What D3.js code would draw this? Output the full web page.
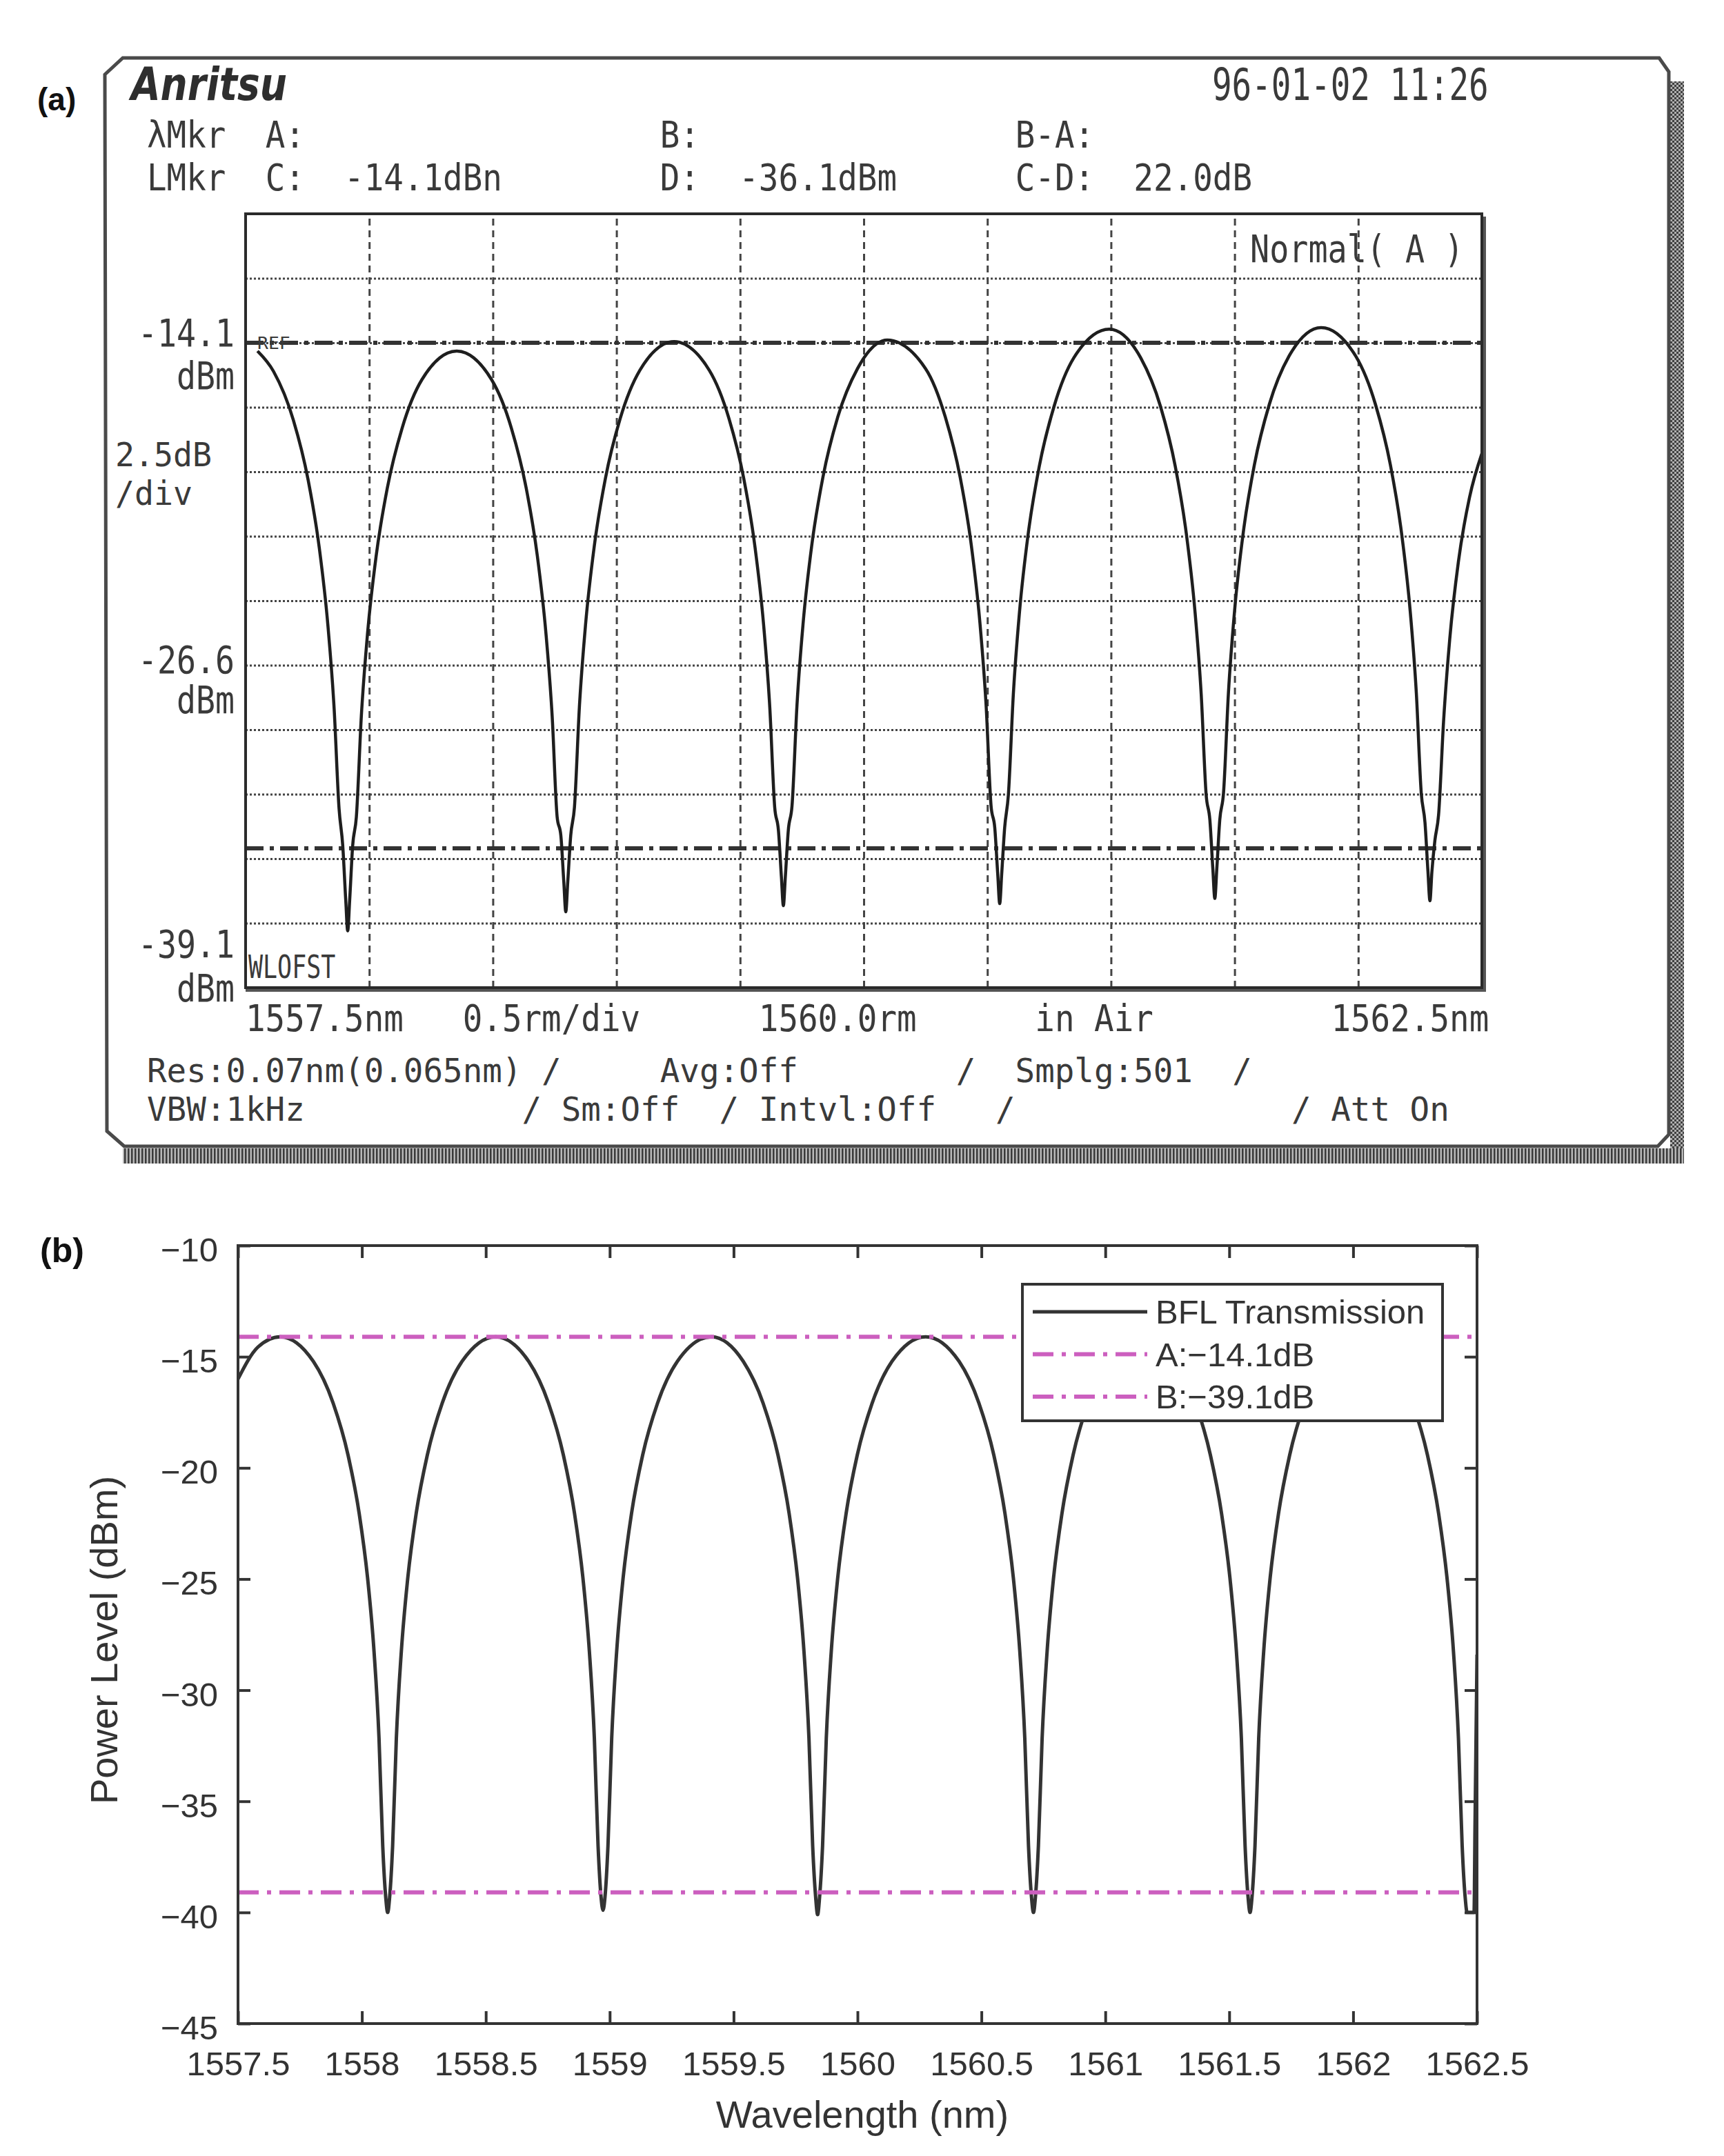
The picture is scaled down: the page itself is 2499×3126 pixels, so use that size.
<!DOCTYPE html>
<html lang="en">
<head>
<meta charset="utf-8">
<title>BFL transmission - OSA trace and model</title>
<script src="https://d3js.org/d3.v7.min.js"></script>
<style>
  body { margin: 0; background: #fff; }
  svg { display: block; }
</style>
</head>
<body>
<script>
const width = 2499;
const height = 3126;

// ---------- panel (a): OSA screen capture ----------
const osaWavelength = [
  1557.548, 1557.613, 1557.693, 1557.753, 1557.798, 1557.833, 1557.858, 1557.878, 1557.893, 1557.905,
  1557.913, 1557.921, 1557.933, 1557.948, 1557.968, 1557.993, 1558.028, 1558.073, 1558.133, 1558.213,
  1558.354, 1558.495, 1558.575, 1558.635, 1558.680, 1558.715, 1558.740, 1558.760, 1558.775, 1558.787,
  1558.795, 1558.803, 1558.815, 1558.830, 1558.850, 1558.875, 1558.910, 1558.955, 1559.015, 1559.095,
  1559.233, 1559.375, 1559.455, 1559.515, 1559.560, 1559.595, 1559.620, 1559.640, 1559.655, 1559.667,
  1559.675, 1559.683, 1559.695, 1559.710, 1559.730, 1559.755, 1559.790, 1559.835, 1559.895, 1559.975,
  1560.095, 1560.250, 1560.330, 1560.390, 1560.435, 1560.470, 1560.495, 1560.515, 1560.530, 1560.542,
  1560.550, 1560.558, 1560.570, 1560.585, 1560.605, 1560.630, 1560.665, 1560.710, 1560.770, 1560.850,
  1560.993, 1561.120, 1561.200, 1561.260, 1561.305, 1561.340, 1561.365, 1561.385, 1561.400, 1561.412,
  1561.420, 1561.428, 1561.440, 1561.455, 1561.475, 1561.500, 1561.535, 1561.580, 1561.640, 1561.720,
  1561.850, 1561.990, 1562.070, 1562.130, 1562.175, 1562.210, 1562.235, 1562.255, 1562.270, 1562.282,
  1562.290, 1562.298, 1562.310, 1562.325, 1562.345, 1562.370, 1562.405, 1562.450, 1562.500
];
const osaPower = [
  -14.42, -15.21, -17.09, -19.42, -22.05, -25.07, -28.27, -32.16, -33.60, -35.70,
  -36.90, -35.70, -33.60, -32.48, -28.59, -25.39, -22.37, -19.74, -17.41, -15.53,
  -14.42, -15.53, -17.41, -19.74, -22.37, -25.39, -28.59, -32.48, -33.20, -35.00,
  -36.16, -35.00, -33.20, -32.11, -28.22, -25.02, -22.00, -19.37, -17.04, -15.16,
  -14.05, -15.16, -17.04, -19.37, -22.00, -25.02, -28.22, -32.11, -33.00, -34.80,
  -35.92, -34.80, -33.00, -32.05, -28.16, -24.96, -21.94, -19.31, -16.98, -15.10,
  -13.99, -15.10, -16.98, -19.31, -21.94, -24.96, -28.16, -32.05, -32.90, -34.70,
  -35.84, -34.70, -32.90, -31.63, -27.74, -24.54, -21.52, -18.89, -16.56, -14.68,
  -13.57, -14.68, -16.56, -18.89, -21.52, -24.54, -27.74, -31.63, -32.60, -34.50,
  -35.64, -34.50, -32.60, -31.57, -27.68, -24.48, -21.46, -18.83, -16.50, -14.62,
  -13.51, -14.62, -16.50, -18.83, -21.46, -24.48, -27.68, -31.57, -32.70, -34.60,
  -35.73, -34.60, -33.40, -32.40, -28.80, -25.60, -22.60, -20.10, -18.40
];
const osaXDivisions = [1558.0, 1558.5, 1559.0, 1559.5, 1560.0, 1560.5, 1561.0, 1561.5, 1562.0];
const osaYDivisions = [-11.6, -14.1, -16.6, -19.1, -21.6, -24.1, -26.6, -29.1, -31.6, -34.1, -36.6];
const osaMarkerLevels = [-14.1, -33.7];

// ---------- panel (b): replotted transmission ----------
const bflWavelength = [
  1557.500, 1557.580, 1557.670, 1557.804, 1557.884, 1557.944, 1557.989, 1558.024, 1558.049, 1558.069,
  1558.084, 1558.096, 1558.104, 1558.112, 1558.124, 1558.139, 1558.159, 1558.184, 1558.219, 1558.264,
  1558.324, 1558.404, 1558.540, 1558.673, 1558.753, 1558.813, 1558.858, 1558.893, 1558.918, 1558.938,
  1558.953, 1558.965, 1558.973, 1558.981, 1558.993, 1559.008, 1559.028, 1559.053, 1559.088, 1559.133,
  1559.193, 1559.273, 1559.410, 1559.539, 1559.619, 1559.679, 1559.724, 1559.759, 1559.784, 1559.804,
  1559.819, 1559.831, 1559.839, 1559.847, 1559.859, 1559.874, 1559.894, 1559.919, 1559.954, 1559.999,
  1560.059, 1560.139, 1560.275, 1560.410, 1560.490, 1560.550, 1560.595, 1560.630, 1560.655, 1560.675,
  1560.690, 1560.702, 1560.710, 1560.718, 1560.730, 1560.745, 1560.765, 1560.790, 1560.825, 1560.870,
  1560.930, 1561.010, 1561.150, 1561.284, 1561.364, 1561.424, 1561.469, 1561.504, 1561.529, 1561.549,
  1561.564, 1561.576, 1561.584, 1561.592, 1561.604, 1561.619, 1561.639, 1561.664, 1561.699, 1561.744,
  1561.804, 1561.884, 1562.020, 1562.160, 1562.240, 1562.300, 1562.345, 1562.380, 1562.405, 1562.425,
  1562.440, 1562.452, 1562.460, 1562.488, 1562.492, 1562.500
];
const bflPower = [
  -16.00, -14.57, -14.10, -15.21, -17.09, -19.42, -22.05, -25.07, -28.27, -32.16,
  -37.00, -39.30, -40.00, -39.30, -37.00, -32.16, -28.27, -25.07, -22.05, -19.42,
  -17.09, -15.21, -14.10, -15.21, -17.09, -19.42, -22.05, -25.07, -28.27, -32.16,
  -37.00, -39.30, -39.90, -39.30, -37.00, -32.16, -28.27, -25.07, -22.05, -19.42,
  -17.09, -15.21, -14.10, -15.21, -17.09, -19.42, -22.05, -25.07, -28.27, -32.16,
  -37.00, -39.30, -40.10, -39.30, -37.00, -32.16, -28.27, -25.07, -22.05, -19.42,
  -17.09, -15.21, -14.10, -15.21, -17.09, -19.42, -22.05, -25.07, -28.27, -32.16,
  -37.00, -39.30, -40.00, -39.30, -37.00, -32.16, -28.27, -25.07, -22.05, -19.42,
  -17.09, -15.21, -14.10, -15.21, -17.09, -19.42, -22.05, -25.07, -28.27, -32.16,
  -37.00, -39.30, -40.00, -39.30, -37.00, -32.16, -28.27, -25.07, -22.05, -19.42,
  -17.09, -15.21, -14.10, -15.21, -17.09, -19.42, -22.05, -25.07, -28.27, -32.16,
  -37.00, -39.30, -40.00, -40.00, -36.00, -28.40
];
const bflXTicks = [1557.5, 1558, 1558.5, 1559, 1559.5, 1560, 1560.5, 1561, 1561.5, 1562, 1562.5];
const bflXTickLabels = ["1557.5", "1558", "1558.5", "1559", "1559.5", "1560", "1560.5", "1561", "1561.5", "1562", "1562.5"];
const bflYTicks = [-10, -15, -20, -25, -30, -35, -40, -45];
const bflYTickLabels = ["\u221210", "\u221215", "\u221220", "\u221225", "\u221230", "\u221235", "\u221240", "\u221245"];
const bflLevels = [-14.1, -39.1];
const legendLabels = ["BFL Transmission", "A:\u221214.1dB", "B:\u221239.1dB"];

const sans = "'Liberation Sans', Arial, sans-serif";
const mono = "'DejaVu Sans Mono', monospace";
const ink = "#333";
const pink = "#cc5fbf";

const svg = d3.select("body")
  .append("svg")
  .attr("width", width)
  .attr("height", height)
  .style("background-color", "#fff");

const defs = svg.append("defs");
const checker = defs.append("pattern").attr("id", "checker")
  .attr("patternUnits", "userSpaceOnUse").attr("width", 6).attr("height", 6);
checker.append("rect").attr("width", 6).attr("height", 6).attr("fill", "#b0b0b0");
checker.append("rect").attr("width", 3).attr("height", 3).attr("fill", "#404040");
checker.append("rect").attr("x", 3).attr("y", 3).attr("width", 3).attr("height", 3).attr("fill", "#404040");
const stripes = defs.append("pattern").attr("id", "stripes")
  .attr("patternUnits", "userSpaceOnUse").attr("width", 5).attr("height", 5);
stripes.append("rect").attr("width", 5).attr("height", 5).attr("fill", "#b8b8b8");
stripes.append("rect").attr("width", 2.5).attr("height", 5).attr("fill", "#3a3a3a");

// ================= (a) =================
const ax = { left: 356, right: 2148, top: 310, bottom: 1432 };
const xA = d3.scaleLinear().domain([1557.5, 1562.5]).range([ax.left, ax.right]);
const yA = d3.scaleLinear().domain([-39.1, -9.1]).range([ax.bottom, ax.top]);

// screen bezel + shadow
svg.append("rect").attr("x", 2421).attr("y", 118).attr("width", 20).attr("height", 1569)
  .attr("fill", "url(#checker)");
svg.append("rect").attr("x", 178).attr("y", 1665).attr("width", 2263).attr("height", 22)
  .attr("fill", "url(#stripes)");
svg.append("polygon")
  .attr("points", "152,108 178,84 2405,84 2419,104 2419,1645 2403,1662 180,1662 155,1640")
  .attr("fill", "#fff")
  .attr("stroke", "#4a4a4a")
  .attr("stroke-width", 5);

function osaText(x, y, str, size, sx, anchor) {
  return svg.append("text")
    .attr("transform", `translate(${x},${y}) scale(${sx},1)`)
    .attr("font-family", mono)
    .attr("font-size", size)
    .attr("fill", "#3a3a3a")
    .attr("text-anchor", anchor || "start")
    .attr("xml:space", "preserve")
    .style("white-space", "pre")
    .text(str);
}

// logo + header
svg.append("text")
  .attr("x", 190).attr("y", 145)
  .attr("font-family", "'DejaVu Sans Condensed', 'DejaVu Sans', sans-serif")
  .attr("font-weight", "bold").attr("font-style", "italic")
  .attr("font-size", 66)
  .attr("textLength", 226).attr("lengthAdjust", "spacingAndGlyphs")
  .attr("fill", "#2e2e2e")
  .text("Anritsu");
osaText(1757, 145, "96-01-02 11:26", 64, 0.743);
osaText(213, 214, "\u03bbMkr  A:                  B:                B-A:", 54, 0.88);
osaText(213, 276, "LMkr  C:  -14.1dBn        D:  -36.1dBm      C-D:  22.0dB", 54, 0.88);

// level labels at the left of the screen
osaText(340, 502, "-14.1", 55, 0.846, "end");
osaText(340, 564, "dBm", 55, 0.846, "end");
osaText(167, 676, "2.5dB", 48, 0.97);
osaText(167, 732, "/div", 48, 0.97);
osaText(340, 976, "-26.6", 55, 0.846, "end");
osaText(340, 1034, "dBm", 55, 0.846, "end");
osaText(340, 1388, "-39.1", 55, 0.846, "end");
osaText(340, 1452, "dBm", 55, 0.846, "end");

// grid
svg.append("g")
  .attr("transform", `translate(0,${ax.bottom})`)
  .call(d3.axisBottom(xA).tickValues(osaXDivisions).tickSize(-(ax.bottom - ax.top)).tickFormat(""))
  .call(g => g.select(".domain").remove())
  .selectAll(".tick line")
  .attr("stroke", "#444").attr("stroke-width", 3).attr("stroke-dasharray", "10,7");
svg.append("g")
  .attr("transform", `translate(${ax.left},0)`)
  .call(d3.axisLeft(yA).tickValues(osaYDivisions).tickSize(-(ax.right - ax.left)).tickFormat(""))
  .call(g => g.select(".domain").remove())
  .selectAll(".tick line")
  .attr("stroke", "#444").attr("stroke-width", 3).attr("stroke-dasharray", "3,3");

// REF / marker lines
svg.selectAll("line.osa-marker")
  .data(osaMarkerLevels)
  .enter()
  .append("line")
  .attr("class", "osa-marker")
  .attr("x1", ax.left).attr("x2", ax.right)
  .attr("y1", d => yA(d)).attr("y2", d => yA(d))
  .attr("stroke", "#333").attr("stroke-width", 6)
  .attr("stroke-dasharray", "26,9,6,9");

// trace
const osaLine = d3.line()
  .x(d => xA(d[0]))
  .y(d => yA(d[1]))
  .curve(d3.curveMonotoneX);
svg.append("path")
  .datum(d3.zip(osaWavelength, osaPower))
  .attr("d", osaLine)
  .attr("fill", "none")
  .attr("stroke", "#1e1e1e")
  .attr("stroke-width", 4.5);

// screen frame
svg.append("rect")
  .attr("x", ax.left).attr("y", ax.top)
  .attr("width", ax.right - ax.left).attr("height", ax.bottom - ax.top)
  .attr("fill", "none").attr("stroke", "#2a2a2a").attr("stroke-width", 4);
svg.append("path")
  .attr("d", `M${ax.left},${ax.bottom + 4}H${ax.right + 4}V${ax.top + 4}`)
  .attr("fill", "none").attr("stroke", "#555").attr("stroke-width", 4);

osaText(373, 506, "REF", 24, 1.1);
osaText(360, 1418, "WLOFST", 46, 0.76);
osaText(1812, 380, "Normal( A )", 55, 0.85);

// footer
osaText(356, 1495, "1557.5nm   0.5rm/div      1560.0rm      in Air         1562.5nm", 54, 0.88);
osaText(213, 1569, "Res:0.07nm(0.065nm) /     Avg:Off        /  Smplg:501  /", 48, 0.99);
osaText(213, 1625, "VBW:1kHz           / Sm:Off  / Intvl:Off   /              / Att On", 48, 0.99);

svg.append("text")
  .attr("x", 54).attr("y", 160)
  .attr("font-family", sans).attr("font-weight", "bold").attr("font-size", 46)
  .attr("fill", "#111")
  .text("(a)");

// ================= (b) =================
const bx = { left: 345, right: 2141, top: 1806, bottom: 2934 };
const xB = d3.scaleLinear().domain([1557.5, 1562.5]).range([bx.left, bx.right]);
const yB = d3.scaleLinear().domain([-45, -10]).range([bx.bottom, bx.top]);

defs.append("clipPath").attr("id", "clipB")
  .append("rect")
  .attr("x", bx.left).attr("y", bx.top)
  .attr("width", bx.right - bx.left).attr("height", bx.bottom - bx.top);

function styleAxis(g) {
  g.select(".domain").remove();
  g.selectAll(".tick line").attr("stroke", ink).attr("stroke-width", 4);
  g.attr("font-family", sans).attr("font-size", 49);
  g.selectAll(".tick text").attr("fill", ink);
}

svg.append("g")
  .attr("transform", `translate(0,${bx.bottom})`)
  .call(d3.axisBottom(xB).tickValues(bflXTicks).tickSize(-18).tickPadding(40)
    .tickFormat((d, i) => bflXTickLabels[i]))
  .call(styleAxis);
svg.append("g")
  .attr("transform", `translate(0,${bx.top})`)
  .call(d3.axisTop(xB).tickValues(bflXTicks).tickSize(-18).tickFormat(""))
  .call(styleAxis);
svg.append("g")
  .attr("transform", `translate(${bx.left},0)`)
  .call(d3.axisLeft(yB).tickValues(bflYTicks).tickSize(-18).tickPadding(29)
    .tickFormat((d, i) => bflYTickLabels[i]))
  .call(styleAxis)
  .selectAll(".tick text").attr("dy", "0.46em");
svg.append("g")
  .attr("transform", `translate(${bx.right},0)`)
  .call(d3.axisRight(yB).tickValues(bflYTicks).tickSize(-18).tickFormat(""))
  .call(styleAxis);

const plotB = svg.append("g").attr("clip-path", "url(#clipB)");

const bflLine = d3.line()
  .x(d => xB(d[0]))
  .y(d => yB(d[1]))
  .curve(d3.curveMonotoneX);
plotB.append("path")
  .datum(d3.zip(bflWavelength, bflPower))
  .attr("d", bflLine)
  .attr("fill", "none")
  .attr("stroke", ink)
  .attr("stroke-width", 5);

plotB.selectAll("line.level")
  .data(bflLevels)
  .enter()
  .append("line")
  .attr("class", "level")
  .attr("x1", bx.left).attr("x2", bx.right)
  .attr("y1", d => yB(d)).attr("y2", d => yB(d))
  .attr("stroke", pink).attr("stroke-width", 6)
  .attr("stroke-dasharray", "30,12,6,12");

svg.append("rect")
  .attr("x", bx.left).attr("y", bx.top)
  .attr("width", bx.right - bx.left).attr("height", bx.bottom - bx.top)
  .attr("fill", "none").attr("stroke", ink).attr("stroke-width", 4);

// legend
const legend = svg.append("g").attr("transform", "translate(1482,1862)");
legend.append("rect")
  .attr("width", 609).attr("height", 198)
  .attr("fill", "#fff").attr("stroke", ink).attr("stroke-width", 4);
const rows = legend.selectAll("g.row")
  .data(legendLabels)
  .enter()
  .append("g")
  .attr("class", "row")
  .attr("transform", (d, i) => `translate(0,${40 + i * 61.5})`);
rows.append("line")
  .attr("x1", 15).attr("x2", 181)
  .attr("stroke", (d, i) => i === 0 ? ink : pink)
  .attr("stroke-width", (d, i) => i === 0 ? 5 : 6)
  .attr("stroke-dasharray", (d, i) => i === 0 ? null : "30,12,6,12");
rows.append("text")
  .attr("x", 193).attr("y", 17)
  .attr("font-family", sans).attr("font-size", 49)
  .attr("fill", ink)
  .text(d => d);

// axis titles
svg.append("text")
  .attr("x", 1250).attr("y", 3085)
  .attr("text-anchor", "middle")
  .attr("font-family", sans).attr("font-size", 56)
  .attr("fill", ink)
  .text("Wavelength (nm)");
svg.append("text")
  .attr("transform", "translate(170,2378) rotate(-90)")
  .attr("text-anchor", "middle")
  .attr("font-family", sans).attr("font-size", 56)
  .attr("fill", ink)
  .text("Power Level (dBm)");

svg.append("text")
  .attr("x", 58).attr("y", 1830)
  .attr("font-family", sans).attr("font-weight", "bold").attr("font-size", 50)
  .attr("fill", "#111")
  .text("(b)");
</script>
</body>
</html>
